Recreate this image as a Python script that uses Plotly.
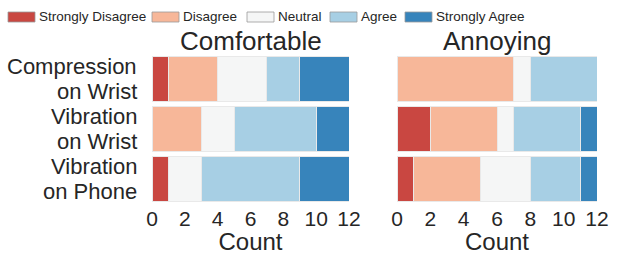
import plotly.graph_objects as go
from plotly.subplots import make_subplots

categories = ["Compression on Wrist", "Vibration on Wrist", "Vibration on Phone"]
category_lines = [["Compression", "on Wrist"], ["Vibration", "on Wrist"], ["Vibration", "on Phone"]]
levels = ["Strongly Disagree", "Disagree", "Neutral", "Agree", "Strongly Agree"]
colors = ["#c94741", "#f7b799", "#f5f6f6", "#a7cfe4", "#3784bb"]

# Comfortable counts per level, order of categories
comfortable = {
    "Strongly Disagree": [1, 0, 1],
    "Disagree": [3, 3, 0],
    "Neutral": [3, 2, 2],
    "Agree": [2, 5, 6],
    "Strongly Agree": [3, 2, 3],
}
annoying = {
    "Strongly Disagree": [0, 2, 1],
    "Disagree": [7, 4, 4],
    "Neutral": [1, 1, 3],
    "Agree": [4, 4, 3],
    "Strongly Agree": [0, 1, 1],
}
x_ticks = [0, 2, 4, 6, 8, 10, 12]

W, H = 642, 255
FONT = "Liberation Sans, Arial, sans-serif"
TXT = "#262626"

def px(x):
    return x / W

def py(y):
    return 1 - y / H

fig = make_subplots(rows=1, cols=2, shared_yaxes=False)

for col, data in ((1, comfortable), (2, annoying)):
    for lvl, c in zip(levels, colors):
        fig.add_trace(
            go.Bar(
                y=categories, x=data[lvl], orientation="h", name=lvl,
                marker=dict(color=c, line=dict(color="#e9e9e9", width=1)),
                width=0.9, showlegend=False,
            ),
            row=1, col=col,
        )

fig.update_layout(
    barmode="stack",
    width=W, height=H,
    margin=dict(l=0, r=0, t=0, b=0, autoexpand=False),
    paper_bgcolor="white", plot_bgcolor="white",
    font=dict(family=FONT, color=TXT),
)

xcommon = dict(range=[0, 12], tickvals=x_ticks, showgrid=False, zeroline=False,
               showline=False, ticks="", tickfont=dict(size=21, color=TXT), automargin=False,
               title=dict(text="Count", font=dict(size=24, color=TXT), standoff=4))
fig.update_xaxes(domain=[px(152), px(349)], row=1, col=1, **xcommon)
fig.update_xaxes(domain=[px(397), px(597)], row=1, col=2, **xcommon)

ycommon = dict(categoryorder="array", categoryarray=categories, range=[2.5, -0.5],
               showgrid=False, zeroline=False, showline=False, ticks="", automargin=False,
               showticklabels=False, domain=[py(204), py(54)])
fig.update_yaxes(row=1, col=1, **ycommon)
fig.update_yaxes(row=1, col=2, **ycommon)

# category labels (two lines each, tight line spacing)
for cat, lines in zip(categories, category_lines):
    for i, line in enumerate(lines):
        fig.add_annotation(x=px(139), y=cat, xref="paper", yref="y", text=line,
                           showarrow=False, xanchor="right", yanchor="middle",
                           yshift=12.5 if i == 0 else -12.5,
                           font=dict(size=22, color=TXT))

# titles
fig.add_annotation(x=px(250.5), y=py(41), xref="paper", yref="paper", text="Comfortable",
                   showarrow=False, font=dict(size=26, color=TXT), xanchor="center", yanchor="middle")
fig.add_annotation(x=px(497), y=py(41), xref="paper", yref="paper", text="Annoying",
                   showarrow=False, font=dict(size=26, color=TXT), xanchor="center", yanchor="middle")

# legend
sw_x = [8, 152, 247, 330, 405]
for x0, lvl, c in zip(sw_x, levels, colors):
    fig.add_shape(type="rect", xref="paper", yref="paper",
                  x0=px(x0), x1=px(x0 + 27), y0=py(22), y1=py(12),
                  fillcolor=c, line=dict(color="#9a9a9a", width=0.8))
    fig.add_annotation(x=px(x0 + 29), y=py(17), xref="paper", yref="paper", text=lvl,
                       showarrow=False, xanchor="left", yanchor="middle",
                       font=dict(size=13.5, color=TXT))

fig.write_html("out.html", config={"displayModeBar": False},
               post_script="document.body.style.margin='0';document.body.style.overflow='hidden';")
